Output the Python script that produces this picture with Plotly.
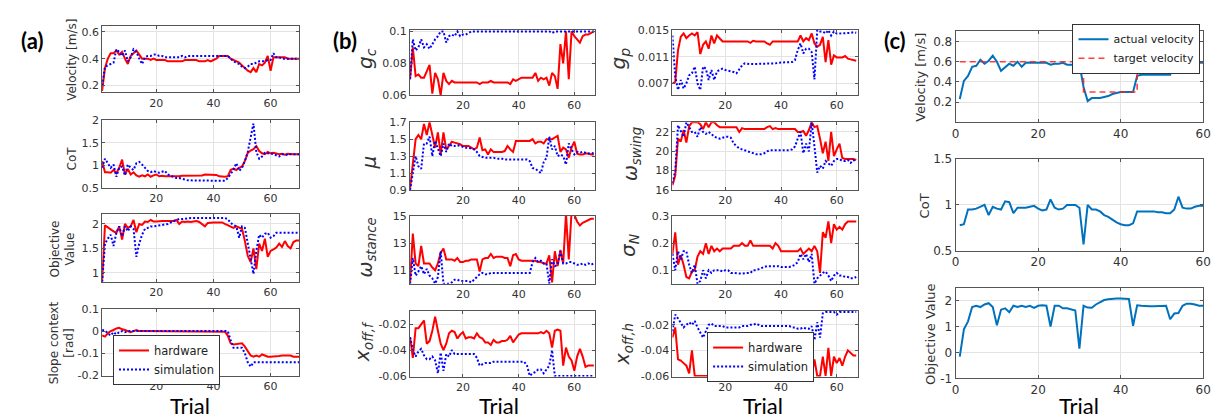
import plotly.graph_objects as go

W, H = 1222, 420

# ---------------- data ----------------
trial_a = list(range(1, 71))
trial_b = list(range(1, 68))
trial_c = list(range(1, 61))

a_vel_hw = [0.16, 0.33, 0.40, 0.44, 0.44, 0.46, 0.43, 0.45, 0.40, 0.36,
            0.42, 0.44, 0.46, 0.43, 0.40, 0.40, 0.40, 0.39, 0.40, 0.39,
            0.39, 0.39, 0.39, 0.38, 0.38, 0.38, 0.38, 0.38, 0.38, 0.39,
            0.39, 0.39, 0.39, 0.39, 0.38, 0.38, 0.38, 0.39, 0.38, 0.39,
            0.40, 0.42, 0.42, 0.42, 0.42, 0.40, 0.39, 0.38, 0.37, 0.35,
            0.33, 0.31, 0.30, 0.33, 0.30, 0.36, 0.35, 0.37, 0.42, 0.31,
            0.41, 0.41, 0.41, 0.41, 0.41, 0.40, 0.40, 0.40, 0.40, 0.40]
a_vel_sim = [0.20, 0.34, 0.35, 0.36, 0.37, 0.47, 0.45, 0.42, 0.46, 0.38,
             0.41, 0.47, 0.45, 0.40, 0.36, 0.41, 0.42, 0.42, 0.43, 0.43,
             0.42, 0.42, 0.41, 0.41, 0.41, 0.41, 0.41, 0.41, 0.42, 0.41,
             0.42, 0.42, 0.42, 0.42, 0.42, 0.42, 0.42, 0.42, 0.42, 0.42,
             0.42, 0.42, 0.42, 0.42, 0.42, 0.40, 0.38, 0.37, 0.36, 0.34,
             0.33, 0.34, 0.36, 0.36, 0.37, 0.38, 0.38, 0.38, 0.39, 0.39,
             0.44, 0.41, 0.41, 0.40, 0.40, 0.40, 0.40, 0.40, 0.40, 0.40]
a_cot_hw = [1.10, 0.85, 0.85, 0.84, 0.90, 0.83, 0.95, 1.13, 0.80, 0.92,
            0.80, 0.85, 0.78, 0.75, 0.78, 0.76, 0.80, 0.75, 0.78, 0.80,
            0.76, 0.77, 0.76, 0.76, 0.75, 0.76, 0.76, 0.76, 0.77, 0.77,
            0.77, 0.77, 0.77, 0.77, 0.77, 0.78, 0.80, 0.80, 0.80, 0.80,
            0.79, 0.76, 0.75, 0.75, 0.76, 0.90, 0.93, 0.90, 0.95, 0.98,
            1.10, 1.28, 1.33, 1.36, 1.43, 1.32, 1.27, 1.25, 1.30, 1.27,
            1.28, 1.26, 1.25, 1.26, 1.24, 1.26, 1.25, 1.25, 1.25, 1.25]
a_cot_sim = [0.95, 1.15, 1.05, 0.95, 1.02, 0.75, 0.95, 0.98, 0.78, 1.02,
             0.95, 0.90, 1.05, 1.08, 1.02, 0.95, 0.88, 0.85, 0.88, 0.85,
             0.84, 0.86, 0.88, 0.80, 0.77, 0.75, 0.72, 0.72, 0.70, 0.68,
             0.67, 0.67, 0.67, 0.67, 0.67, 0.66, 0.66, 0.66, 0.66, 0.66,
             0.66, 0.66, 0.66, 0.66, 0.72, 0.82, 0.90, 1.05, 0.88, 0.95,
             1.10, 1.30, 1.65, 1.93, 1.30, 1.15, 1.20, 1.28, 1.27, 1.27,
             1.25, 1.22, 1.20, 1.25, 1.25, 1.23, 1.25, 1.25, 1.25, 1.25]
a_obj_hw = [0.82, 1.97, 1.93, 1.88, 1.85, 1.82, 1.95, 1.68, 2.00, 1.92,
            1.95, 2.08, 1.83, 2.00, 1.98, 2.05, 2.04, 2.08, 2.05, 2.05,
            2.06, 2.06, 2.06, 2.06, 2.07, 2.06, 2.08, 2.00, 2.05, 2.04,
            2.05, 2.04, 2.05, 2.06, 2.04, 2.00, 1.95, 2.02, 2.03, 2.03,
            2.03, 2.03, 2.03, 2.00, 1.97, 1.95, 1.92, 1.95, 1.93, 1.90,
            1.65, 1.35, 1.22, 1.50, 1.08, 1.60, 1.45, 1.70, 1.33, 1.45,
            1.48, 1.52, 1.60, 1.53, 1.65, 1.55, 1.50, 1.63, 1.66, 1.66]
a_obj_sim = [0.82, 1.60, 1.70, 1.78, 1.55, 1.82, 1.95, 1.75, 1.95, 1.85,
             1.95, 1.90, 1.33, 1.60, 1.78, 1.90, 1.92, 1.95, 1.95, 1.96,
             1.97, 1.97, 1.98, 2.00, 2.03, 2.05, 2.07, 2.10, 2.10, 2.11,
             2.12, 2.12, 2.12, 2.12, 2.12, 2.12, 2.12, 2.12, 2.12, 2.12,
             2.12, 2.12, 2.12, 2.12, 2.10, 2.02, 1.98, 1.95, 1.72, 1.95,
             1.92, 1.60, 1.25, 0.98, 1.45, 1.78, 1.72, 1.80, 1.82, 1.72,
             1.75, 1.82, 1.82, 1.82, 1.82, 1.82, 1.82, 1.82, 1.82, 1.82]
a_slope_hw = [-0.020, -0.025, -0.010, 0.000, 0.005, 0.012, 0.015, 0.008, 0.005, 0.000,
              -0.005, 0.000, 0.005, 0.000, 0.000, -0.002, -0.002, -0.002, -0.002, -0.002,
              -0.002, -0.002, -0.002, -0.002, -0.002, -0.002, -0.002, -0.002, -0.002, 0.000,
              0.000, 0.000, -0.002, -0.002, -0.002, -0.002, -0.002, -0.002, -0.002, -0.002,
              -0.002, -0.002, -0.003, -0.003, -0.020, -0.055, -0.060, -0.058, -0.056, -0.055,
              -0.070, -0.090, -0.110, -0.115, -0.110, -0.115, -0.105, -0.110, -0.115, -0.115,
              -0.115, -0.113, -0.112, -0.110, -0.110, -0.110, -0.110, -0.115, -0.115, -0.115]
a_slope_sim = [0.005, 0.003, -0.010, -0.020, -0.005, -0.015, -0.005, 0.000, -0.005, 0.000,
               0.000, 0.000, 0.000, 0.000, 0.000, 0.000, 0.000, 0.000, 0.000, 0.000,
               0.000, 0.000, 0.000, 0.000, 0.000, 0.000, 0.000, 0.000, 0.000, 0.000,
               0.000, 0.000, 0.000, 0.000, 0.000, 0.000, 0.000, 0.000, 0.000, 0.000,
               0.000, 0.000, 0.000, 0.000, 0.000, -0.040, -0.075, -0.075, -0.075, -0.075,
               -0.100, -0.140, -0.160, -0.140, -0.140, -0.140, -0.140, -0.140, -0.140, -0.140,
               -0.140, -0.140, -0.140, -0.140, -0.140, -0.140, -0.140, -0.140, -0.140, -0.140]

gc_hw = [0.070, 0.090, 0.072, 0.073, 0.071, 0.071, 0.075, 0.079, 0.061, 0.074,
         0.070, 0.060, 0.074, 0.069, 0.067, 0.069, 0.068, 0.068, 0.068, 0.068,
         0.068, 0.068, 0.068, 0.068, 0.068, 0.067, 0.068, 0.068, 0.068, 0.069,
         0.068, 0.068, 0.068, 0.068, 0.068, 0.068, 0.067, 0.070, 0.069, 0.070,
         0.071, 0.071, 0.071, 0.071, 0.071, 0.074, 0.069, 0.071, 0.070, 0.071,
         0.066, 0.074, 0.072, 0.064, 0.092, 0.080, 0.100, 0.070, 0.100, 0.097,
         0.095, 0.093, 0.097, 0.098, 0.098, 0.099, 0.100]
gc_sim = [0.070, 0.095, 0.088, 0.090, 0.095, 0.090, 0.092, 0.089, 0.092, 0.095,
          0.097, 0.100, 0.100, 0.093, 0.097, 0.098, 0.097, 0.100, 0.097, 0.098,
          0.098, 0.099, 0.100, 0.100, 0.100, 0.100, 0.100, 0.100, 0.100, 0.100,
          0.100, 0.100, 0.100, 0.100, 0.100, 0.100, 0.100, 0.100, 0.100, 0.100,
          0.100, 0.100, 0.100, 0.100, 0.100, 0.100, 0.100, 0.100, 0.100, 0.100,
          0.100, 0.099, 0.100, 0.100, 0.100, 0.100, 0.100, 0.100, 0.100, 0.100,
          0.100, 0.100, 0.100, 0.100, 0.100, 0.100, 0.100]
mu_hw = [0.92, 1.20, 1.50, 1.55, 1.50, 1.68, 1.55, 1.70, 1.55, 1.40,
         1.58, 1.32, 1.58, 1.38, 1.42, 1.47, 1.46, 1.45, 1.44, 1.42,
         1.42, 1.42, 1.40, 1.38, 1.40, 1.52, 1.37, 1.38, 1.32, 1.38,
         1.35, 1.35, 1.35, 1.35, 1.36, 1.42, 1.38, 1.35, 1.48, 1.48,
         1.48, 1.48, 1.48, 1.48, 1.50, 1.45, 1.47, 1.47, 1.45, 1.50,
         1.50, 1.50, 1.52, 1.54, 1.35, 1.40, 1.38, 1.28, 1.40, 1.47,
         1.33, 1.32, 1.32, 1.33, 1.33, 1.32, 1.32]
mu_sim = [0.90, 1.10, 1.30, 1.18, 1.15, 1.45, 1.45, 1.53, 1.30, 1.48,
          1.40, 1.30, 1.45, 1.35, 1.45, 1.42, 1.42, 1.43, 1.42, 1.41,
          1.40, 1.40, 1.39, 1.38, 1.35, 1.30, 1.29, 1.28, 1.28, 1.28,
          1.28, 1.27, 1.27, 1.27, 1.26, 1.26, 1.26, 1.26, 1.26, 1.26,
          1.26, 1.26, 1.26, 1.24, 1.16, 1.15, 1.12, 1.10, 1.23, 1.28,
          1.53, 1.38, 1.42, 1.30, 1.32, 1.30, 1.20, 1.45, 1.38, 1.32,
          1.35, 1.34, 1.35, 1.34, 1.33, 1.34, 1.33]
wst_hw = [10.1, 13.7, 11.5, 11.3, 12.8, 11.5, 11.5, 11.5, 11.2, 11.0,
          11.5, 12.3, 12.6, 11.8, 11.8, 11.8, 11.7, 11.9, 11.6, 11.6,
          11.7, 11.7, 11.8, 11.8, 11.8, 10.9, 11.8, 11.9, 11.9, 12.2,
          11.9, 12.0, 12.0, 12.0, 11.9, 11.9, 11.3, 12.1, 12.2, 11.8,
          11.7, 11.7, 11.7, 11.7, 11.7, 11.7, 11.6, 11.6, 11.5, 11.5,
          12.1, 10.1, 12.4, 11.3, 12.5, 11.5, 15.2, 11.8, 15.3, 15.1,
          14.6, 14.3, 14.5, 14.6, 14.7, 14.8, 14.8]
wst_sim = [10.0, 11.9, 10.6, 10.9, 11.3, 10.7, 11.1, 10.6, 10.4, 10.0,
           10.5, 12.4, 10.0, 10.0, 10.0, 10.1, 10.3, 10.3, 10.2, 10.2,
           10.2, 10.2, 10.1, 10.3, 10.5, 10.7, 10.8, 10.7, 10.7, 10.8,
           10.8, 10.8, 10.8, 10.8, 10.8, 10.8, 10.8, 10.8, 10.8, 10.8,
           10.8, 10.8, 10.8, 10.8, 11.6, 11.9, 11.6, 11.7, 11.5, 11.5,
           10.0, 11.8, 11.3, 11.4, 12.4, 11.5, 11.5, 11.6, 11.6, 11.5,
           11.4, 11.4, 11.5, 11.4, 11.5, 11.4, 11.5]
xf_hw = [-0.030, -0.046, -0.023, -0.023, -0.020, -0.017, -0.035, -0.033, -0.025, -0.014,
         -0.025, -0.035, -0.040, -0.035, -0.027, -0.025, -0.026, -0.031, -0.028, -0.026,
         -0.031, -0.030, -0.030, -0.031, -0.027, -0.030, -0.031, -0.034, -0.034, -0.036,
         -0.032, -0.034, -0.034, -0.033, -0.033, -0.032, -0.029, -0.034, -0.031, -0.028,
         -0.027, -0.027, -0.027, -0.027, -0.027, -0.027, -0.027, -0.026, -0.027, -0.025,
         -0.027, -0.038, -0.025, -0.024, -0.025, -0.052, -0.038, -0.045, -0.048, -0.056,
         -0.045, -0.039, -0.045, -0.053, -0.052, -0.052, -0.052]
xf_sim = [-0.030, -0.040, -0.045, -0.041, -0.039, -0.044, -0.047, -0.047, -0.045, -0.048,
          -0.058, -0.042, -0.056, -0.043, -0.045, -0.040, -0.043, -0.043, -0.043, -0.043,
          -0.043, -0.043, -0.043, -0.043, -0.046, -0.052, -0.051, -0.050, -0.050, -0.050,
          -0.049, -0.049, -0.049, -0.049, -0.049, -0.049, -0.049, -0.049, -0.049, -0.049,
          -0.049, -0.049, -0.052, -0.060, -0.058, -0.057, -0.055, -0.055, -0.058, -0.055,
          -0.052, -0.040, -0.060, -0.060, -0.060, -0.060, -0.060, -0.060, -0.060, -0.060,
          -0.060, -0.060, -0.060, -0.060, -0.060, -0.060, -0.060]
gp_hw = [0.0070, 0.0072, 0.0120, 0.0140, 0.0145, 0.0138, 0.0142, 0.0145, 0.0142, 0.0147,
         0.0114, 0.0128, 0.0133, 0.0122, 0.0142, 0.0130, 0.0142, 0.0138, 0.0133, 0.0133,
         0.0133, 0.0133, 0.0133, 0.0133, 0.0133, 0.0133, 0.0133, 0.0133, 0.0131, 0.0134,
         0.0133, 0.0133, 0.0133, 0.0133, 0.0130, 0.0128, 0.0133, 0.0133, 0.0133, 0.0133,
         0.0133, 0.0133, 0.0133, 0.0133, 0.0133, 0.0133, 0.0142, 0.0133, 0.0138, 0.0135,
         0.0145, 0.0130, 0.0125, 0.0128, 0.0140, 0.0102, 0.0135, 0.0098, 0.0112, 0.0109,
         0.0109, 0.0109, 0.0111, 0.0107, 0.0106, 0.0105, 0.0104]
gp_sim = [0.0142, 0.0080, 0.0060, 0.0075, 0.0062, 0.0070, 0.0082, 0.0085, 0.0095, 0.0070,
          0.0060, 0.0095, 0.0092, 0.0075, 0.0090, 0.0075, 0.0088, 0.0090, 0.0092, 0.0090,
          0.0089, 0.0089, 0.0087, 0.0085, 0.0092, 0.0097, 0.0100, 0.0099, 0.0099, 0.0099,
          0.0099, 0.0099, 0.0099, 0.0099, 0.0100, 0.0100, 0.0100, 0.0100, 0.0101, 0.0101,
          0.0101, 0.0102, 0.0102, 0.0102, 0.0105, 0.0120, 0.0130, 0.0115, 0.0122, 0.0122,
          0.0117, 0.0076, 0.0150, 0.0148, 0.0148, 0.0145, 0.0150, 0.0142, 0.0148, 0.0145,
          0.0145, 0.0145, 0.0146, 0.0145, 0.0146, 0.0147, 0.0146]
wsw_hw = [16.5, 17.5, 21.3, 21.0, 22.2, 20.9, 22.6, 23.0, 23.0, 23.0,
          22.8, 22.3, 23.0, 22.5, 23.0, 23.0, 22.7, 22.5, 22.5, 22.5,
          22.5, 22.5, 22.5, 22.5, 22.0, 22.4, 22.3, 22.3, 22.3, 22.3,
          22.3, 22.3, 22.3, 22.3, 22.5, 22.6, 22.3, 22.4, 22.3, 22.3,
          22.3, 22.3, 22.3, 22.3, 22.3, 22.0, 22.0, 22.1, 21.6, 22.2,
          23.0, 22.5, 22.6, 21.3, 19.8, 21.0, 19.0, 22.0, 19.5, 20.2,
          20.8, 19.3, 19.2, 19.2, 19.2, 19.2, 19.1]
wsw_sim = [16.7, 18.0, 22.7, 22.0, 21.5, 23.0, 22.5, 22.0, 22.0, 21.5,
           22.5, 22.0, 21.8, 22.0, 21.8, 21.5, 21.4, 21.3, 21.4, 21.5,
           21.5, 21.4, 20.8, 20.5, 20.3, 20.2, 20.1, 20.0, 19.9, 19.8,
           19.7, 19.7, 19.7, 19.8, 20.0, 20.1, 20.1, 20.1, 20.1, 20.1,
           20.1, 20.1, 20.1, 20.2, 20.5, 21.3, 22.0, 19.8, 20.8, 20.0,
           23.0, 20.5, 17.8, 18.5, 18.2, 19.0, 18.7, 18.5, 19.0, 19.2,
           19.2, 19.0, 19.0, 19.1, 18.8, 19.1, 18.9]
sn_hw = [0.160, 0.240, 0.120, 0.155, 0.120, 0.075, 0.070, 0.095, 0.100, 0.150,
         0.170, 0.160, 0.200, 0.160, 0.190, 0.170, 0.180, 0.170, 0.180, 0.180,
         0.180, 0.180, 0.190, 0.190, 0.190, 0.200, 0.190, 0.190, 0.210, 0.190,
         0.190, 0.190, 0.190, 0.190, 0.190, 0.190, 0.180, 0.200, 0.190, 0.170,
         0.170, 0.170, 0.170, 0.170, 0.170, 0.170, 0.180, 0.160, 0.170, 0.180,
         0.170, 0.190, 0.170, 0.090, 0.240, 0.220, 0.280, 0.200, 0.270, 0.250,
         0.260, 0.250, 0.270, 0.280, 0.280, 0.280, 0.280]
sn_sim = [0.160, 0.100, 0.170, 0.140, 0.170, 0.170, 0.120, 0.090, 0.120, 0.050,
          0.060, 0.100, 0.070, 0.100, 0.090, 0.100, 0.100, 0.100, 0.095, 0.100,
          0.100, 0.090, 0.090, 0.088, 0.088, 0.088, 0.090, 0.090, 0.090, 0.100,
          0.100, 0.105, 0.110, 0.112, 0.115, 0.115, 0.115, 0.115, 0.115, 0.112,
          0.112, 0.112, 0.112, 0.115, 0.120, 0.130, 0.160, 0.140, 0.160, 0.130,
          0.160, 0.050, 0.070, 0.080, 0.090, 0.095, 0.080, 0.060, 0.080, 0.090,
          0.080, 0.080, 0.075, 0.075, 0.070, 0.070, 0.075]
xh_hw = [-0.030, -0.022, -0.047, -0.048, -0.050, -0.052, -0.058, -0.040, -0.060, -0.060,
         -0.060, -0.060, -0.060, -0.060, -0.060, -0.060, -0.060, -0.060, -0.060, -0.060,
         -0.060, -0.060, -0.060, -0.060, -0.060, -0.060, -0.060, -0.060, -0.060, -0.060,
         -0.060, -0.060, -0.060, -0.060, -0.060, -0.060, -0.059, -0.060, -0.060, -0.060,
         -0.060, -0.060, -0.060, -0.060, -0.060, -0.060, -0.060, -0.060, -0.060, -0.060,
         -0.060, -0.047, -0.060, -0.060, -0.045, -0.060, -0.038, -0.060, -0.045, -0.050,
         -0.046, -0.052, -0.045, -0.040, -0.042, -0.044, -0.044]
xh_sim = [-0.025, -0.012, -0.015, -0.018, -0.022, -0.020, -0.018, -0.020, -0.017, -0.022,
          -0.026, -0.030, -0.025, -0.020, -0.019, -0.021, -0.021, -0.021, -0.021, -0.022,
          -0.022, -0.022, -0.022, -0.022, -0.022, -0.021, -0.021, -0.021, -0.020, -0.020,
          -0.019, -0.020, -0.021, -0.021, -0.021, -0.021, -0.021, -0.021, -0.021, -0.021,
          -0.021, -0.021, -0.021, -0.022, -0.022, -0.023, -0.023, -0.022, -0.023, -0.023,
          -0.021, -0.032, -0.018, -0.030, -0.011, -0.010, -0.010, -0.010, -0.010, -0.012,
          -0.010, -0.010, -0.010, -0.010, -0.010, -0.010, -0.010]

c_vel_actual = [0.23, 0.41, 0.46, 0.55, 0.56, 0.62, 0.58, 0.61, 0.66, 0.60,
                0.51, 0.55, 0.58, 0.56, 0.60, 0.55, 0.59, 0.59, 0.59, 0.59,
                0.59, 0.59, 0.57, 0.58, 0.58, 0.59, 0.57, 0.57, 0.57, 0.58,
                0.35, 0.21, 0.24, 0.24, 0.24, 0.25, 0.26, 0.28, 0.29, 0.30,
                0.30, 0.30, 0.30, 0.46, 0.47, 0.47, 0.47, 0.47, 0.47, 0.47,
                0.47, 0.47, 0.58, 0.60, 0.60, 0.60, 0.60, 0.60, 0.59, 0.59]
c_vel_target = [0.6, 0.6, 0.6, 0.6, 0.6, 0.6, 0.6, 0.6, 0.6, 0.6,
                0.6, 0.6, 0.6, 0.6, 0.6, 0.6, 0.6, 0.6, 0.6, 0.6,
                0.6, 0.6, 0.6, 0.6, 0.6, 0.6, 0.6, 0.6, 0.6, 0.6,
                0.3, 0.3, 0.3, 0.3, 0.3, 0.3, 0.3, 0.3, 0.3, 0.3,
                0.3, 0.3, 0.3, 0.5, 0.5, 0.5, 0.5, 0.5, 0.5, 0.5,
                0.5, 0.5, 0.6, 0.6, 0.6, 0.6, 0.6, 0.6, 0.6, 0.6]
c_cot = [0.78, 0.79, 0.95, 0.95, 0.96, 0.98, 1.00, 0.89, 0.98, 0.96,
         0.95, 1.04, 1.03, 0.91, 0.97, 0.97, 0.97, 0.98, 0.99, 0.96,
         0.94, 0.95, 1.06, 0.97, 0.95, 0.96, 1.00, 1.00, 1.00, 0.97,
         0.57, 1.00, 0.95, 0.95, 0.93, 0.89, 0.87, 0.84, 0.81, 0.79,
         0.78, 0.78, 0.80, 0.93, 0.93, 0.93, 0.93, 0.93, 0.92, 0.92,
         0.91, 0.91, 0.95, 1.09, 0.97, 0.96, 0.96, 0.98, 0.99, 0.99]
c_obj = [-0.16, 0.89, 1.20, 1.75, 1.80, 1.75, 1.85, 1.90, 1.75, 1.05,
         1.65, 1.70, 1.55, 1.80, 1.75, 1.80, 1.75, 1.80, 1.72, 1.80,
         1.82, 1.80, 1.00, 1.80, 1.80, 1.70, 1.70, 1.65, 1.62, 0.15,
         1.80, 1.73, 1.72, 1.85, 1.95, 2.02, 2.05, 2.07, 2.08, 2.08,
         2.08, 2.06, 1.03, 1.82, 1.80, 1.78, 1.78, 1.78, 1.78, 1.79,
         1.80, 1.28, 1.50, 1.52, 1.80, 1.88, 1.88, 1.85, 1.80, 1.80]

xticks_ab = [20, 40, 60]
xticks_c = [0, 20, 40, 60]

# ---------------- figure ----------------
RED = "#FF0000"
BLUE = "#0000FF"
MBLUE = "#0072BD"
AXC = "#555555"
GRID = "#E3E3E3"
TXT = "#333333"


def px(x):
    return x / W


def py(y):
    return 1 - y / H


def fmt(v):
    return "%g" % v


fig = go.Figure()

# (x0, x1, y0, y1 in px), xrange, xticks, yrange, yticks, tick font size
panels = [
    ((91, 290, 11, 80), [1, 70], xticks_ab, [0.15, 0.645], [0.2, 0.4, 0.6], 11),
    ((91, 290, 109, 179), [1, 70], xticks_ab, [0.5, 2.0], [0.5, 1, 1.5, 2], 11),
    ((91, 290, 206, 276), [1, 70], xticks_ab, [0.82, 2.2], [1, 1.5, 2], 11),
    ((91, 290, 304, 373), [1, 70], xticks_ab, [-0.2, 0.1], [-0.2, -0.1, 0, 0.1], 11),
    ((402, 589, 15, 83), [1, 67.5], xticks_ab, [0.06, 0.1012], [0.06, 0.08, 0.1], 11),
    ((402, 589, 111, 181), [1, 67.5], xticks_ab, [0.9, 1.7], [0.9, 1.1, 1.3, 1.5, 1.7], 11),
    ((402, 589, 208, 278), [1, 67.5], xticks_ab, [10, 15], [11, 13, 15], 11),
    ((402, 589, 306, 374), [1, 67.5], xticks_ab, [-0.0605, -0.0095], [-0.06, -0.04, -0.02], 11),
    ((667, 854, 15, 83), [1, 67.5], xticks_ab, [0.0052, 0.0151], [0.007, 0.011, 0.015], 11),
    ((667, 854, 111, 181), [1, 67.5], xticks_ab, [16, 23], [16, 18, 20, 22], 11),
    ((667, 854, 208, 278), [1, 67.5], xticks_ab, [0.05, 0.3], [0.1, 0.2, 0.3], 11),
    ((667, 854, 306, 374), [1, 67.5], xticks_ab, [-0.0605, -0.009], [-0.06, -0.04, -0.02], 11),
    ((953, 1203, 17, 111), [0, 60], xticks_c, [0, 0.9], [0.2, 0.4, 0.6, 0.8], 12),
    ((953, 1203, 149, 244), [0, 60], xticks_c, [0.5, 1.5], [0.5, 1, 1.5], 12),
    ((953, 1203, 282, 376), [0, 60], xticks_c, [-1, 2.5], [-1, 0, 1, 2], 12),
]

layout_axes = {}
for i, (box, xr, xt, yr, yt, fs) in enumerate(panels, start=1):
    x0, x1, y0, y1 = box
    sx = "" if i == 1 else str(i)
    common = dict(showline=True, linecolor=AXC, linewidth=1, mirror="ticks",
                  ticks="inside", ticklen=3, tickcolor=AXC,
                  showgrid=True, gridcolor=GRID, gridwidth=1, zeroline=False,
                  tickfont=dict(family="DejaVu Sans", size=fs, color=TXT))
    layout_axes["xaxis" + sx] = dict(domain=[px(x0), px(x1)], anchor="y" + sx,
                                     range=xr, tickmode="array", tickvals=xt,
                                     ticktext=[fmt(v) for v in xt], **common)
    layout_axes["yaxis" + sx] = dict(domain=[py(y1), py(y0)], anchor="x" + sx,
                                     range=yr, tickmode="array", tickvals=yt,
                                     ticktext=[fmt(v) for v in yt], **common)

fig.update_layout(**layout_axes)

HW_LINE = dict(color=RED, width=2)
SIM_LINE = dict(color=BLUE, width=2, dash="2px,2px")

pairs_a = [(a_vel_hw, a_vel_sim), (a_cot_hw, a_cot_sim),
           (a_obj_hw, a_obj_sim), (a_slope_hw, a_slope_sim)]
for k, (hw, sim) in enumerate(pairs_a, start=1):
    sx = "" if k == 1 else str(k)
    show = (k == 4)
    fig.add_trace(go.Scatter(x=trial_a, y=hw, mode="lines", line=HW_LINE,
                             name="hardware", showlegend=show, legend="legend",
                             xaxis="x" + sx, yaxis="y" + sx))
    fig.add_trace(go.Scatter(x=trial_a, y=sim, mode="lines", line=SIM_LINE,
                             name="simulation", showlegend=show, legend="legend",
                             xaxis="x" + sx, yaxis="y" + sx))

pairs_b = [(gc_hw, gc_sim), (mu_hw, mu_sim), (wst_hw, wst_sim), (xf_hw, xf_sim),
           (gp_hw, gp_sim), (wsw_hw, wsw_sim), (sn_hw, sn_sim), (xh_hw, xh_sim)]
for k, (hw, sim) in enumerate(pairs_b, start=5):
    sx = str(k)
    show = (k == 12)
    fig.add_trace(go.Scatter(x=trial_b, y=hw, mode="lines", line=HW_LINE,
                             name="hardware", showlegend=show, legend="legend2",
                             xaxis="x" + sx, yaxis="y" + sx))
    fig.add_trace(go.Scatter(x=trial_b, y=sim, mode="lines", line=SIM_LINE,
                             name="simulation", showlegend=show, legend="legend2",
                             xaxis="x" + sx, yaxis="y" + sx))

fig.add_trace(go.Scatter(x=trial_c, y=c_vel_actual, mode="lines",
                         line=dict(color=MBLUE, width=2), name="actual velocity",
                         legend="legend3", xaxis="x13", yaxis="y13"))
fig.add_trace(go.Scatter(x=trial_c, y=c_vel_target, mode="lines", line_shape="hv",
                         line=dict(color="rgba(255,30,30,0.85)", width=1.6, dash="6px,4px"),
                         name="target velocity", legend="legend3",
                         xaxis="x13", yaxis="y13"))
fig.add_trace(go.Scatter(x=trial_c, y=c_cot, mode="lines",
                         line=dict(color=MBLUE, width=2), showlegend=False,
                         xaxis="x14", yaxis="y14"))
fig.add_trace(go.Scatter(x=trial_c, y=c_obj, mode="lines",
                         line=dict(color=MBLUE, width=2), showlegend=False,
                         xaxis="x15", yaxis="y15"))

leg_common = dict(xanchor="left", yanchor="top", bgcolor="white",
                  bordercolor="#333333", borderwidth=1, tracegroupgap=0,
                  itemwidth=30)
fig.update_layout(
    legend=dict(x=px(102), y=py(331),
                font=dict(family="DejaVu Sans", size=11.5, color="#222222"), **leg_common),
    legend2=dict(x=px(702), y=py(328),
                 font=dict(family="DejaVu Sans", size=11.5, color="#222222"), **leg_common),
    legend3=dict(x=px(1071), y=py(9),
                 font=dict(family="DejaVu Sans", size=11, color="#222222"), **leg_common),
)

ann = []


def ylab(text, x, y, size, family="DejaVu Sans"):
    ann.append(dict(text=text, x=px(x), y=py(y), xref="paper", yref="paper",
                    xanchor="center", yanchor="middle", textangle=-90,
                    showarrow=False, font=dict(family=family, size=size, color=TXT)))


ylab("Velocity [m/s]", 61, 46, 12)
ylab("CoT", 61, 148, 12)
ylab("Objective<br>Value", 51, 242, 12)
ylab("Slope context<br>[rad]", 50, 339, 12)

ylab("<i>g</i><sub><i>c</i></sub>", 358, 45, 20)
ylab("<i>μ</i>", 360, 152, 20)
ylab("<i>ω</i><sub><i>stance</i></sub>", 358, 240, 19)
ylab("<i>x</i><sub><i>off,f</i></sub>", 355, 338, 19)
ylab("<i>g</i><sub><i>p</i></sub>", 614, 45, 20)
ylab("<i>ω</i><sub><i>swing</i></sub>", 625, 144, 19)
ylab("<i>σ</i><sub><i>N</i></sub>", 623, 238, 20)
ylab("<i>x</i><sub><i>off,h</i></sub>", 618, 340, 19)

ylab("Velocity [m/s]", 918, 64, 13)
ylab("CoT", 921, 197, 13)
ylab("Objective Value", 927, 330, 13)

for txt, x in [("(a)", 20), ("(b)", 336), ("(c)", 892)]:
    ann.append(dict(text="<b>" + txt + "</b>", x=px(x), y=py(26), xref="paper", yref="paper",
                    xanchor="center", yanchor="middle", showarrow=False,
                    font=dict(family="Lato", size=22, color="black")))

for x in [180, 492, 758, 1078]:
    ann.append(dict(text="Trial", x=px(x), y=py(404), xref="paper", yref="paper",
                    xanchor="center", yanchor="middle", showarrow=False,
                    font=dict(family="Lato", size=22, color="black")))

fig.update_layout(annotations=ann, width=W, height=H,
                  margin=dict(l=0, r=0, t=0, b=0),
                  paper_bgcolor="white", plot_bgcolor="white")

fig.write_html("out.html")
